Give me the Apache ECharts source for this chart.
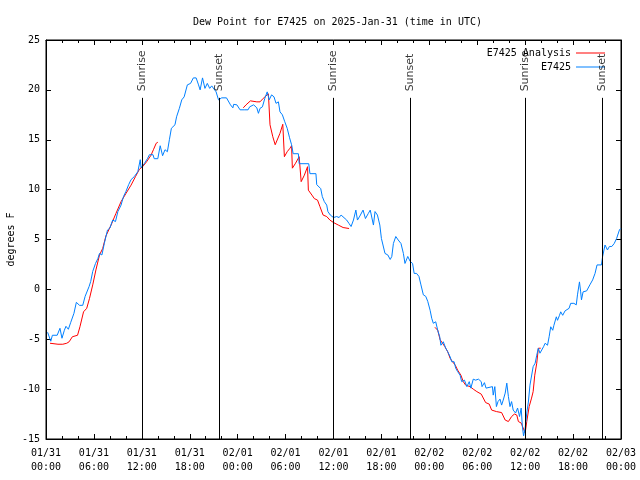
<!DOCTYPE html>
<html>
<head>
<meta charset="utf-8">
<script src="https://cdn.jsdelivr.net/npm/echarts@6/dist/echarts.min.js"></script>
<style>html,body{margin:0;padding:0;background:#fff}#c{width:640px;height:480px}</style>
</head>
<body>
<div id="c"></div>
<script>
// time in hours since 2025-01-31 00:00 UTC, value in degrees F
var xTickLabels = ['01/31\n00:00','01/31\n06:00','01/31\n12:00','01/31\n18:00','02/01\n00:00','02/01\n06:00','02/01\n12:00','02/01\n18:00','02/02\n00:00','02/02\n06:00','02/02\n12:00','02/02\n18:00','02/03\n00:00'];
var sunTimes = [12.05, 21.7, 36.0, 45.65, 60.0, 69.65];
var sunLabels = ['Sunrise','Sunset','Sunrise','Sunset','Sunrise','Sunset'];

var observed = [
[0.2,-4.3],[0.6,-5.2],[0.8,-4.6],[1.0,-4.8],[1.4,-4.6],[1.75,-3.9],[2.0,-4.9],[2.3,-4.1],[2.5,-3.7],[2.8,-4.0],[3.1,-3.3],[3.5,-2.4],[3.8,-1.3],[4.2,-1.6],[4.6,-1.6],[4.9,-0.7],[5.1,-0.6],[5.4,0.3],[5.6,0.8],[5.85,1.8],[6.2,2.6],[6.5,3.1],[6.7,3.6],[7.0,3.45],[7.3,4.6],[7.7,5.95],[8.0,6.15],[8.35,6.95],[8.7,6.8],[9.0,7.8],[9.4,8.45],[9.7,9.3],[10.0,9.8],[10.35,10.5],[10.65,11.0],[11.05,11.3],[11.5,11.8],[11.8,13.0],[11.9,12.2],[12.3,12.6],[12.7,13.1],[12.95,13.5],[13.4,13.5],[13.55,13.1],[14.0,13.1],[14.3,14.4],[14.6,13.4],[14.9,14.0],[15.2,13.8],[15.45,15.0],[15.7,16.15],[16.15,16.5],[16.35,17.3],[16.7,18.15],[17.0,19.0],[17.3,19.3],[17.7,20.5],[18.1,20.65],[18.45,21.2],[18.8,21.2],[19.1,20.5],[19.3,20.0],[19.6,21.2],[19.9,20.15],[20.2,20.65],[20.5,20.15],[20.75,20.4],[21.0,20.2],[21.3,19.8],[21.6,19.0],[22.0,19.2],[22.6,19.2],[22.8,19.0],[23.1,18.5],[23.4,18.2],[23.5,18.55],[23.9,18.5],[24.3,18.0],[24.9,18.0],[25.3,18.0],[25.5,18.3],[26.0,18.5],[26.4,18.2],[26.6,17.65],[26.8,18.15],[27.1,18.3],[27.4,19.15],[27.7,19.8],[27.95,19.0],[28.25,19.5],[28.55,19.3],[28.8,18.65],[29.1,18.8],[29.3,17.8],[29.6,17.5],[29.9,16.8],[30.2,16.15],[30.5,15.2],[30.75,14.5],[30.95,13.6],[31.6,13.6],[31.7,12.6],[32.9,12.6],[33.05,11.6],[33.8,11.6],[33.9,10.5],[34.4,10.1],[34.6,9.3],[34.85,8.8],[35.15,8.45],[35.3,7.8],[35.6,7.45],[36.0,7.2],[36.4,7.3],[36.7,7.2],[36.95,7.45],[37.2,7.3],[37.65,6.95],[37.95,6.6],[38.2,6.3],[38.5,6.95],[38.8,7.95],[39.0,6.95],[39.3,7.35],[39.7,7.95],[40.0,7.1],[40.35,7.6],[40.6,7.95],[40.8,7.8],[41.0,6.45],[41.2,7.8],[41.5,7.45],[41.8,6.45],[42.0,5.1],[42.2,5.3],[42.45,3.6],[42.8,3.45],[43.1,3.0],[43.3,3.3],[43.5,4.6],[43.8,5.3],[44.1,4.95],[44.45,4.6],[44.75,3.6],[44.95,2.6],[45.3,3.3],[45.6,2.8],[45.9,2.6],[46.1,1.6],[46.4,1.6],[46.7,1.3],[46.95,0.45],[47.25,-0.55],[47.55,-0.7],[47.8,-1.2],[48.1,-2.1],[48.3,-2.9],[48.5,-3.4],[48.8,-3.25],[49.05,-4.1],[49.3,-4.75],[49.45,-5.6],[49.75,-5.25],[50.05,-5.9],[50.3,-6.25],[50.6,-6.75],[50.8,-7.25],[51.1,-7.25],[51.3,-7.9],[51.55,-8.25],[51.85,-8.6],[52.05,-9.25],[52.4,-9.1],[52.7,-9.75],[53.0,-9.25],[53.2,-9.9],[53.5,-9.0],[53.8,-9.1],[54.15,-9.0],[54.5,-9.25],[54.6,-9.75],[54.9,-9.35],[55.1,-9.9],[55.3,-9.75],[55.9,-9.75],[56.0,-10.6],[56.2,-9.75],[56.4,-11.75],[56.6,-11.25],[56.85,-11.0],[57.05,-11.6],[57.25,-11.1],[57.5,-10.4],[57.7,-9.4],[57.9,-10.75],[58.1,-11.75],[58.3,-11.25],[58.5,-12.1],[58.8,-12.4],[59.05,-11.9],[59.3,-12.75],[59.5,-11.9],[59.65,-13.75],[59.8,-14.7],[60.0,-13.9],[60.2,-12.4],[60.4,-11.3],[60.6,-9.6],[60.8,-9.75],[61.0,-7.75],[61.25,-7.4],[61.45,-6.6],[61.65,-5.9],[61.85,-6.4],[62.1,-6.4],[62.3,-5.75],[62.5,-5.4],[62.8,-5.6],[63.0,-4.75],[63.2,-3.75],[63.45,-4.1],[63.6,-3.6],[63.9,-2.75],[64.05,-3.1],[64.3,-2.6],[64.45,-2.25],[64.7,-2.6],[65.0,-2.15],[65.2,-2.05],[65.5,-1.9],[65.7,-1.4],[65.95,-1.2],[66.1,-1.4],[66.4,-1.55],[66.55,-0.55],[66.8,0.75],[66.95,-0.25],[67.05,-1.05],[67.25,-0.25],[67.7,-0.15],[67.9,-0.15],[68.1,0.45],[68.45,0.95],[68.75,1.6],[69.0,2.45],[69.55,2.45],[69.7,3.3],[70.0,4.45],[70.3,3.95],[70.55,4.3],[70.85,4.3],[71.15,4.6],[71.45,5.1],[71.8,5.95],[71.95,6.1]
];

var analysis1 = [
[0.5,-5.4],[1.5,-5.5],[2.1,-5.5],[2.6,-5.4],[2.9,-5.25],[3.3,-4.75],[3.95,-4.6],[4.25,-3.75],[4.7,-2.25],[5.1,-1.9],[5.45,-0.9],[5.85,0.45],[6.25,1.95],[6.7,3.45],[7.1,4.1],[7.5,5.35],[8.15,6.45],[8.75,7.6],[9.4,8.8],[10.0,9.6],[10.65,10.45],[11.2,11.3],[11.7,12.05],[12.1,12.3],[12.6,12.8],[13.15,13.45],[13.45,14.0],[13.8,14.65],[14.0,14.75]
];
var analysis2 = [
[24.7,18.2],[25.05,18.5],[25.6,18.9],[26.4,18.8],[26.8,18.8],[27.2,19.15],[27.55,19.4],[27.85,19.6],[28.05,16.5],[28.4,15.3],[28.7,14.5],[29.3,15.65],[29.65,16.55],[29.85,13.3],[30.2,13.8],[30.55,14.15],[30.75,14.4],[30.85,12.15],[31.25,12.65],[31.7,13.3],[31.95,10.8],[32.35,11.45],[32.75,12.3],[32.85,9.95],[33.3,9.45],[33.6,9.1],[34.0,8.95],[34.3,8.3],[34.7,7.45],[35.15,7.3],[35.55,6.95],[36.0,6.7],[36.6,6.45],[37.2,6.2],[37.95,6.1]
];
var analysis3 = [
[48.7,-3.8],[49.05,-4.1],[49.35,-5.05],[49.6,-5.05],[49.95,-5.75],[50.3,-6.25],[50.6,-6.9],[50.9,-7.25],[51.25,-7.6],[51.55,-8.1],[51.95,-8.6],[52.25,-9.25],[52.55,-9.6],[53.1,-9.75],[53.5,-10.0],[53.95,-10.25],[54.5,-10.5],[54.75,-10.7],[55.05,-11.35],[55.5,-11.5],[55.8,-12.1],[56.4,-12.25],[57.05,-12.35],[57.5,-13.1],[57.9,-13.25],[58.3,-12.75],[58.65,-12.5],[58.95,-12.6],[59.15,-13.25],[59.5,-13.4],[59.8,-14.0],[60.0,-14.4],[60.2,-13.25],[60.5,-11.75],[60.8,-10.9],[61.0,-10.25],[61.2,-8.6],[61.45,-7.4],[61.65,-5.9],[61.95,-5.9]
];

var FONT = 'DejaVu Sans Mono';
var RED = '#ff0000', BLUE = '#0080ff';

var chart = echarts.init(document.getElementById('c'), null, {renderer: 'canvas'});

function analysisSeries(d) {
  return {
    name: 'E7425 Analysis', type: 'line', data: d, symbol: 'none',
    lineStyle: {color: RED, width: 1}, itemStyle: {color: RED},
    animation: false, silent: true, z: 2
  };
}

var option = {
  animation: false,
  backgroundColor: '#fff',
  title: {
    text: 'Dew Point for E7425 on 2025-Jan-31 (time in UTC)',
    left: 188, top: 12,
    textStyle: {fontFamily: FONT, fontSize: 10, fontWeight: 'normal', color: '#000'}
  },
  legend: [
    {
      data: ['E7425 Analysis'], right: 30, top: 43, align: 'right', orient: 'vertical',
      icon: 'rect', itemWidth: 29, itemHeight: 1, itemGap: 2,
      textStyle: {fontFamily: FONT, fontSize: 10, color: '#000'}, selectedMode: false
    },
    {
      data: ['E7425'], right: 30, top: 57, align: 'right', orient: 'vertical',
      icon: 'rect', itemWidth: 29, itemHeight: 1, itemGap: 2,
      textStyle: {fontFamily: FONT, fontSize: 10, color: '#000'}, selectedMode: false
    }
  ],
  grid: {left: 46, right: 19, top: 40, bottom: 41, show: true, borderColor: '#000', borderWidth: 1,
         backgroundColor: 'transparent', containLabel: false, outerBoundsMode: 'none'},
  xAxis: [
    {
      type: 'value', min: 0, max: 72, interval: 6, position: 'bottom',
      axisLine: {show: true, onZero: false, lineStyle: {color: '#000', width: 1}},
      axisTick: {show: true, inside: true, length: 5, lineStyle: {color: '#000'}},
      minorTick: {show: true, splitNumber: 3, length: 3, lineStyle: {color: '#000'}},
      splitLine: {show: false},
      axisLabel: {
        show: true, margin: 7, color: '#000', fontFamily: FONT, fontSize: 10, lineHeight: 14,
        formatter: function (v) { return xTickLabels[Math.round(v / 6)]; }
      }
    },
    {
      type: 'value', min: 0, max: 72, interval: 6, position: 'top',
      axisLine: {show: true, onZero: false, lineStyle: {color: '#000', width: 1}},
      axisTick: {show: true, inside: true, length: 5, lineStyle: {color: '#000'}},
      minorTick: {show: true, splitNumber: 3, length: 3, lineStyle: {color: '#000'}},
      splitLine: {show: false}, axisLabel: {show: false}
    }
  ],
  yAxis: [
    {
      type: 'value', min: -15, max: 25, interval: 5, position: 'left',
      name: 'degrees F', nameLocation: 'middle', nameGap: 30, nameMoveOverlap: false,
      nameTextStyle: {fontFamily: FONT, fontSize: 10, color: '#000'},
      axisLine: {show: true, onZero: false, lineStyle: {color: '#000', width: 1}},
      axisTick: {show: true, inside: true, length: 5, lineStyle: {color: '#000'}},
      splitLine: {show: false},
      axisLabel: {show: true, margin: 6, color: '#000', fontFamily: FONT, fontSize: 10}
    },
    {
      type: 'value', min: -15, max: 25, interval: 5, position: 'right',
      axisLine: {show: true, onZero: false, lineStyle: {color: '#000', width: 1}},
      axisTick: {show: true, inside: true, length: 5, lineStyle: {color: '#000'}},
      splitLine: {show: false}, axisLabel: {show: false}
    }
  ],
  series: [
    analysisSeries(analysis1),
    analysisSeries(analysis2),
    analysisSeries(analysis3),
    {
      name: 'E7425', type: 'line', data: observed, symbol: 'none',
      lineStyle: {color: BLUE, width: 1}, itemStyle: {color: BLUE},
      silent: true, z: 3
    },
    {
      name: 'sun', type: 'scatter', symbolSize: 1, symbol: 'rect',
      itemStyle: {color: 'rgba(0,0,0,0)'},
      data: sunTimes.map(function (t, i) { return [t, 19.7, sunLabels[i]]; }),
      label: {
        show: true, position: [0, 0], rotate: 90, align: 'left', verticalAlign: 'middle',
        offset: [1, 0],
        fontFamily: 'DejaVu Sans', fontSize: 11, color: '#000',
        formatter: function (p) { return p.data[2]; }
      },
      markLine: {
        silent: true, symbol: ['none', 'none'], label: {show: false},
        lineStyle: {color: '#000', width: 1, type: 'solid'},
        data: sunTimes.map(function (t) { return [{coord: [t, 19.2]}, {coord: [t, -15]}]; })
      },
      z: 4
    }
  ]
};
chart.setOption(option);
</script>
</body>
</html>
